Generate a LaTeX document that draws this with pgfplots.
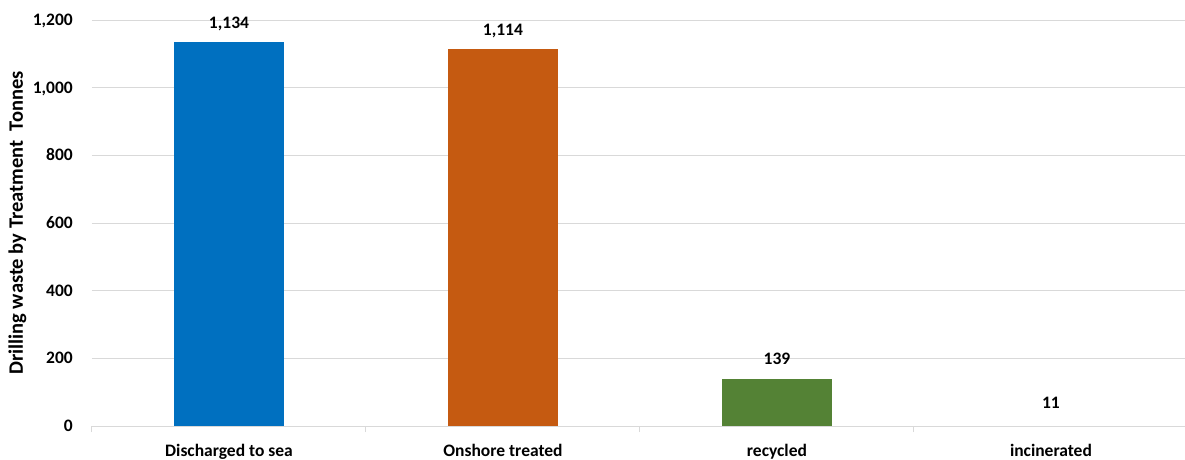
\documentclass[border=0pt]{standalone}
\usepackage{fontspec}
\setmainfont{Carlito}
\usepackage{pgfplots}
\pgfplotsset{compat=1.18}
\usetikzlibrary{calc}

\definecolor{barblue}{HTML}{0070C0}
\definecolor{barorange}{HTML}{C55A11}
\definecolor{bargreen}{HTML}{548235}
\definecolor{gridgray}{HTML}{D9D9D9}

\newcommand{\lbl}{\fontsize{17.5}{20}\selectfont\bfseries}
\newcommand{\ttl}{\fontsize{20.5}{24}\selectfont\bfseries}

\begin{document}
\begin{tikzpicture}
\begin{axis}[
  name=ax,
  scale only axis,
  width=1096pt, height=406pt,
  xmin=-0.5, xmax=3.5,
  ymin=0, ymax=1200,
  ybar, bar width=110pt,
  /pgf/number format/assume math mode=true,
  /pgf/number format/1000 sep={,},
  axis x line*=bottom,
  axis y line*=left,
  y axis line style={draw=none},
  x axis line style={draw=gridgray, line width=1pt},
  ytick={0,200,...,1200},
  ytick style={draw=none},
  ymajorgrids,
  grid style={draw=gridgray, line width=1pt},
  xtick={0,1,2,3},
  xticklabels={Discharged to sea, Onshore treated, recycled, incinerated},
  xtick style={draw=none},
  extra x ticks={-0.5,0.5,1.5,2.5},
  extra x tick labels={},
  extra x tick style={
    xtick style={draw=gridgray, line width=1pt},
    major tick length=6pt,
    tick align=outside,
  },
  xticklabel style={font=\lbl, anchor=base, inner sep=0.5pt, yshift=-26pt},
  yticklabel style={font=\lbl, anchor=base east, inner sep=0pt, xshift=-19pt, yshift=-5.4pt},
  ylabel={Drilling waste by Treatment~ Tonnes},
  ylabel style={font=\ttl, at={(axis description cs:-0.063,0.5)}, anchor=base},
  nodes near coords,
  nodes near coords style={font=\lbl, anchor=base, yshift=14pt, text=black},
  clip=false,
]
\addplot[fill=barblue, draw=none, bar shift=0pt] coordinates {(0,1134)};
\addplot[fill=barorange, draw=none, bar shift=0pt] coordinates {(1,1114)};
\addplot[fill=bargreen, draw=none, bar shift=0pt] coordinates {(2,139)};
\addplot[fill=white, draw=none, bar shift=0pt] coordinates {(3,11)};
\end{axis}
\pgfresetboundingbox
\path[use as bounding box] ($(ax.south west)+(-92pt,-33pt)$) rectangle ($(ax.south west)+(1093pt,426pt)$);
\end{tikzpicture}
\end{document}
